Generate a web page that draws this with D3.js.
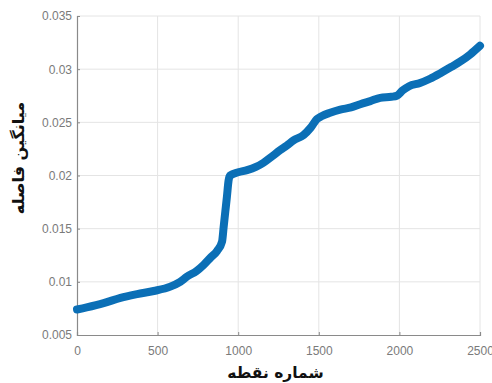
<!DOCTYPE html>
<html>
<head>
<meta charset="utf-8">
<script src="https://cdn.jsdelivr.net/npm/d3@7"></script>
<style>
  html, body { margin: 0; padding: 0; background: #fff; }
  svg { display: block; }
  .tick text { font-family: "Liberation Sans", Arial, sans-serif; font-size: 12px; fill: #7a7a7a; }
</style>
</head>
<body>
<svg id="chart" width="492" height="383"></svg>
<script>
// Point index along the path and mean distance at that point
const pointIndex = [0, 60, 165, 270, 373, 476, 579, 640, 683, 740, 786, 830, 869, 900,
  910, 920, 930, 940, 950, 1000, 1055, 1110, 1157, 1210, 1261, 1300, 1343, 1405, 1450,
  1488, 1520, 1570, 1633, 1700, 1757, 1820, 1881, 1950, 1984, 2020, 2060, 2128, 2190,
  2252, 2320, 2376, 2440, 2500];
const meanDistance = [0.00740, 0.00760, 0.00800, 0.00850, 0.00885, 0.00914, 0.00955,
  0.0100, 0.0105, 0.0110, 0.0116, 0.0123, 0.0129, 0.0138, 0.0152, 0.0166, 0.0180,
  0.0195, 0.0200, 0.0203, 0.0205, 0.0208, 0.0212, 0.0218, 0.0224, 0.0228, 0.0233,
  0.0238, 0.0245, 0.0253, 0.0256, 0.0259, 0.0262, 0.0264, 0.0267, 0.0270, 0.0273,
  0.0274, 0.0275, 0.0280, 0.0284, 0.0287, 0.0291, 0.0296, 0.0302, 0.0307, 0.0314, 0.0322];

const xTicks = [0, 500, 1000, 1500, 2000, 2500];
const yTicks = [0.005, 0.01, 0.015, 0.02, 0.025, 0.03, 0.035];
const xTitle = "شماره نقطه";
const yTitle = "میانگین فاصله";

const svg = d3.select("#chart");
const plotLeft = 77, plotRight = 480, plotTop = 16, plotBottom = 335;

const x = d3.scaleLinear().domain([0, 2500]).range([plotLeft, plotRight]);
const y = d3.scaleLinear().domain([0.005, 0.035]).range([plotBottom, plotTop]);

// grid
svg.append("g").selectAll("line").data(xTicks.slice(1)).join("line")
  .attr("x1", d => x(d)).attr("x2", d => x(d)).attr("y1", plotTop).attr("y2", plotBottom)
  .attr("stroke", "#e4e4e4").attr("stroke-width", 1);
svg.append("g").selectAll("line").data(yTicks.slice(1)).join("line")
  .attr("x1", plotLeft).attr("x2", plotRight).attr("y1", d => y(d)).attr("y2", d => y(d))
  .attr("stroke", "#e4e4e4").attr("stroke-width", 1);

// axes (ticks pointing inward)
const xAxis = svg.append("g").attr("transform", `translate(0,${plotBottom})`)
  .call(d3.axisBottom(x).tickValues(xTicks).tickFormat(d3.format("d")).tickSize(-3).tickPadding(11));
const yAxis = svg.append("g").attr("transform", `translate(${plotLeft},0)`)
  .call(d3.axisLeft(y).tickValues(yTicks).tickFormat(d => String(+d.toFixed(3))).tickSize(-3).tickPadding(5));
[xAxis, yAxis].forEach(a => {
  a.select(".domain").attr("stroke", "#8a8a8a").attr("stroke-width", 1.2);
  a.selectAll(".tick line").attr("stroke", "#8a8a8a");
});

// data line
const line = d3.line().x((d, i) => x(pointIndex[i])).y(d => y(d)).curve(d3.curveMonotoneX);
svg.append("path").datum(meanDistance)
  .attr("d", line)
  .attr("fill", "none")
  .attr("stroke", "#0b6fb6")
  .attr("stroke-width", 8)
  .attr("stroke-linecap", "round")
  .attr("stroke-linejoin", "round");

// titles
svg.append("text")
  .attr("x", (plotLeft + plotRight) / 2 - 3).attr("y", 378)
  .attr("text-anchor", "middle")
  .attr("font-family", "DejaVu Sans, sans-serif").attr("font-weight", "bold")
  .attr("font-size", 15.5).attr("fill", "#111")
  .text(xTitle);
svg.append("text")
  .attr("transform", "translate(24,158) rotate(-90)")
  .attr("text-anchor", "middle")
  .attr("font-family", "DejaVu Sans, sans-serif").attr("font-weight", "bold")
  .attr("font-size", 16).attr("fill", "#111")
  .text(yTitle);
</script>
</body>
</html>
